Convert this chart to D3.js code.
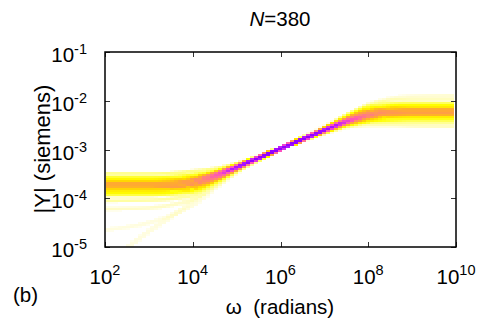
<!DOCTYPE html>
<html lang="en">
<head>
<meta charset="UTF-8">
<title>N=380</title>
<style>
  body { margin: 0; background: #fff; }
  svg { display: block; font-family: "Liberation Sans", Arial, sans-serif; }
  .axis path { display: none; }
  .axis line { stroke: #333; stroke-width: 1; shape-rendering: crispEdges; }
  .cell { shape-rendering: crispEdges; }
</style>
</head>
<body>
<script src="https://cdn.jsdelivr.net/npm/d3@7/dist/d3.min.js"></script>
<script>
var width = 488, height = 329;
var plot = {left: 105, right: 456, top: 52, bottom: 247};

// frequency points (radians) for the two halves of the curves
var omegaLow  = [1e2, 1e3, 3.16e3, 1e4, 3.16e4, 1e5, 3.16e5, 1e6, 3.16e6];
var omegaHigh = [3.16e5, 1e6, 3.16e6, 1e7, 3.16e7, 1e8, 3.16e8, 1e9, 1e10];

// log10 |Y| of groups of curves, low-frequency side
var lowLogY = [
  [-3.50, -3.50, -3.49, -3.45, -3.40, -3.30, -3.155, -2.98, -2.79],
  [-3.58, -3.58, -3.57, -3.53, -3.46, -3.32, -3.16, -2.98, -2.79],
  [-3.64, -3.64, -3.63, -3.59, -3.49, -3.34, -3.165, -2.98, -2.79],
  [-3.70, -3.70, -3.69, -3.64, -3.52, -3.35, -3.17, -2.98, -2.79],
  [-3.76, -3.76, -3.75, -3.70, -3.56, -3.37, -3.175, -2.98, -2.79],
  [-3.82, -3.82, -3.80, -3.75, -3.59, -3.38, -3.18, -2.98, -2.79],
  [-3.88, -3.88, -3.86, -3.81, -3.63, -3.40, -3.185, -2.985, -2.79],
  [-3.93, -3.93, -3.91, -3.86, -3.66, -3.41, -3.19, -2.985, -2.79],
  [-4.05, -4.04, -4.01, -3.93, -3.70, -3.43, -3.195, -2.99, -2.795],
  [-4.22, -4.20, -4.14, -4.02, -3.75, -3.45, -3.20, -2.99, -2.795],
  [-4.65, -4.50, -4.36, -4.14, -3.80, -3.47, -3.21, -2.995, -2.795],
  [-5.40, -4.68, -4.38, -4.06, -3.74, -3.44, -3.20, -2.99, -2.795]
];
var lowCounts = [12, 30, 55, 80, 75, 55, 35, 22, 8, 4, 2, 2];

// log10 |Y| of groups of curves, high-frequency side
var highLogY = [
  [-3.17, -2.98, -2.775, -2.56, -2.30, -2.08, -1.96, -1.91, -1.89],
  [-3.17, -2.98, -2.775, -2.555, -2.31, -2.10, -2.00, -1.97, -1.96],
  [-3.17, -2.98, -2.78, -2.57, -2.33, -2.13, -2.07, -2.05, -2.05],
  [-3.17, -2.98, -2.78, -2.58, -2.36, -2.18, -2.12, -2.10, -2.10],
  [-3.17, -2.98, -2.785, -2.59, -2.39, -2.23, -2.17, -2.16, -2.16],
  [-3.17, -2.98, -2.79, -2.60, -2.42, -2.28, -2.22, -2.21, -2.21],
  [-3.17, -2.98, -2.79, -2.61, -2.44, -2.32, -2.27, -2.26, -2.26],
  [-3.17, -2.98, -2.795, -2.62, -2.46, -2.36, -2.32, -2.31, -2.31],
  [-3.17, -2.98, -2.80, -2.635, -2.49, -2.41, -2.38, -2.37, -2.37],
  [-3.17, -2.98, -2.80, -2.645, -2.51, -2.44, -2.43, -2.43, -2.43],
  [-3.17, -2.98, -2.81, -2.66, -2.54, -2.50, -2.50, -2.51, -2.52]
];
var highCounts = [3, 5, 18, 35, 60, 80, 75, 50, 32, 16, 6];

var xTicks = [1e2, 1e4, 1e6, 1e8, 1e10];
var xTickExp = ["2", "4", "6", "8", "10"];
var yTicks = [1e-1, 1e-2, 1e-3, 1e-4, 1e-5];
var yTickExp = ["-1", "-2", "-3", "-4", "-5"];

var x = d3.scaleLog().domain([1e2, 1e10]).range([plot.left, plot.right]);
var y = d3.scaleLog().domain([1e-5, 1e-1]).range([plot.bottom, plot.top]);

// number of curves in a cell -> colour
var density = d3.scaleLinear()
  .domain([0.5, 4, 10, 22, 38, 55, 80, 130, 200, 290, 380])
  .range(["#fffef0", "#fffcc8", "#ffff90", "#ffff40", "#ffff00", "#ffd800",
          "#ffaa30", "#ff8478", "#ff50c0", "#b818ff", "#9000ff"])
  .clamp(true);

var svg = d3.select("body").append("svg")
  .attr("width", width)
  .attr("height", height);

svg.append("clipPath").attr("id", "clip")
  .append("rect")
  .attr("x", plot.left).attr("y", plot.top)
  .attr("width", plot.right - plot.left).attr("height", plot.bottom - plot.top);

// bin the curves into a coarse grid, like the original density picture
var cellW = 4, cellH = 2, half = 1.5;
var x0 = x(1e2) + 1;
var ncol = Math.floor((x(1e10) - 2 - x0) / cellW);
var nrow = Math.ceil((plot.bottom - plot.top) / cellH);
var grid = d3.range(ncol).map(function() { return new Float64Array(nrow); });
var xMid = x(1e6);

var line = d3.line()
  .x(function(d) { return x(d[0]); })
  .y(function(d) { return y(Math.pow(10, d[1])); })
  .curve(d3.curveMonotoneX);

var scratch = svg.append("g").attr("visibility", "hidden");

function addGroup(omegas, logs, count, leftSide) {
  var pts = omegas.map(function(w, i) { return [w, logs[i]]; });
  var p = scratch.append("path").attr("d", line(pts)).node();
  var len = p.getTotalLength();
  var lo = [], hi = [];
  for (var s = 0; s <= len; s += 0.5) {
    var pt = p.getPointAtLength(s);
    var c = Math.floor((pt.x - x0) / cellW);
    if (c < 0 || c >= ncol) continue;
    var cx = x0 + (c + 0.5) * cellW;
    if (leftSide ? cx >= xMid : cx < xMid) continue;
    lo[c] = lo[c] === undefined ? pt.y : Math.min(lo[c], pt.y);
    hi[c] = hi[c] === undefined ? pt.y : Math.max(hi[c], pt.y);
  }
  for (var c2 = 0; c2 < ncol; c2++) {
    if (lo[c2] === undefined) continue;
    var a = lo[c2] - half, b = hi[c2] + half;
    for (var r = Math.max(0, Math.floor((a - plot.top) / cellH)); r < nrow; r++) {
      var r0 = plot.top + r * cellH, r1 = r0 + cellH;
      if (r0 > b) break;
      var ov = Math.min(b, r1) - Math.max(a, r0);
      if (ov > 0) grid[c2][r] += count * ov / cellH;
    }
  }
}

lowLogY.forEach(function(v, i) { addGroup(omegaLow, v, lowCounts[i], true); });
highLogY.forEach(function(v, i) { addGroup(omegaHigh, v, highCounts[i], false); });
scratch.remove();

var cells = [];
grid.forEach(function(col, c) {
  col.forEach(function(n, r) {
    if (n >= 0.5) cells.push({c: c, r: r, n: n});
  });
});

svg.append("g")
  .attr("clip-path", "url(#clip)")
  .selectAll("rect")
  .data(cells)
  .join("rect")
  .attr("class", "cell")
  .attr("x", function(d) { return x0 + d.c * cellW; })
  .attr("y", function(d) { return plot.top + d.r * cellH; })
  .attr("width", cellW)
  .attr("height", cellH)
  .attr("fill", function(d) { return density(d.n); });

// ticks on all four sides, pointing in
var noLabel = function() { return ""; };
svg.append("g").attr("class", "axis")
  .attr("transform", "translate(0," + plot.bottom + ")")
  .call(d3.axisBottom(x).tickValues(xTicks).tickSize(-5).tickFormat(noLabel));
svg.append("g").attr("class", "axis")
  .attr("transform", "translate(0," + plot.top + ")")
  .call(d3.axisTop(x).tickValues(xTicks).tickSize(-5).tickFormat(noLabel));
svg.append("g").attr("class", "axis")
  .attr("transform", "translate(" + plot.left + ",0)")
  .call(d3.axisLeft(y).tickValues(yTicks).tickSize(-5).tickFormat(noLabel));
svg.append("g").attr("class", "axis")
  .attr("transform", "translate(" + plot.right + ",0)")
  .call(d3.axisRight(y).tickValues(yTicks).tickSize(-5).tickFormat(noLabel));

svg.append("rect")
  .attr("x", plot.left).attr("y", plot.top)
  .attr("width", plot.right - plot.left).attr("height", plot.bottom - plot.top)
  .attr("fill", "none").attr("stroke", "#000").attr("stroke-width", 1.5);

// tick labels 10^n
svg.append("g").selectAll("text")
  .data(xTicks)
  .join("text")
  .attr("x", function(d) { return x(d); })
  .attr("y", 284)
  .attr("text-anchor", "middle")
  .attr("font-size", 20.5)
  .each(function(d, i) {
    var t = d3.select(this);
    t.append("tspan").text("10");
    t.append("tspan").attr("dy", -9.5).attr("font-size", 14.5).text(xTickExp[i]);
  });

svg.append("g").selectAll("text")
  .data(yTicks)
  .join("text")
  .attr("x", 87)
  .attr("y", function(d) { return y(d) + 10; })
  .attr("text-anchor", "end")
  .attr("font-size", 20.5)
  .each(function(d, i) {
    var t = d3.select(this);
    t.append("tspan").text("10");
    t.append("tspan").attr("dy", -8).attr("font-size", 14.5).text(yTickExp[i]);
  });

// titles
var title = svg.append("text")
  .attr("x", 280).attr("y", 26)
  .attr("text-anchor", "middle")
  .attr("font-size", 20.5);
title.append("tspan").attr("font-style", "italic").text("N");
title.append("tspan").text("=380");

svg.append("text")
  .attr("x", 280).attr("y", 314)
  .attr("text-anchor", "middle")
  .attr("font-size", 20.5)
  .text("\u03c9\u00a0 (radians)");

svg.append("text")
  .attr("transform", "translate(50,149) rotate(-90)")
  .attr("text-anchor", "middle")
  .attr("font-size", 22)
  .text("|Y| (siemens)");

svg.append("text")
  .attr("x", 13).attr("y", 302)
  .attr("font-size", 20.5)
  .text("(b)");
</script>
</body>
</html>
